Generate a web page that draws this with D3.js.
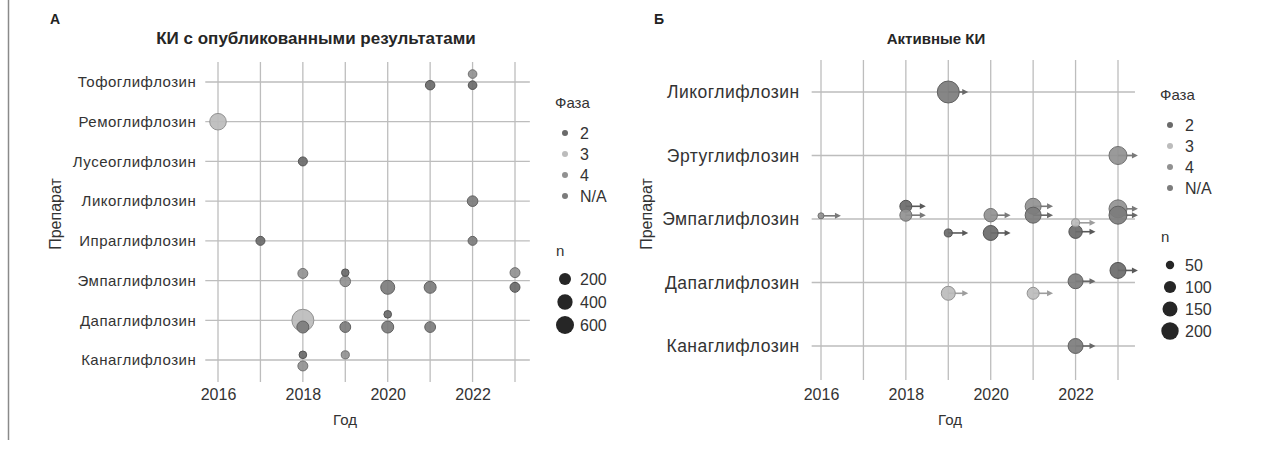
<!DOCTYPE html>
<html>
<head>
<meta charset="utf-8">
<script src="https://cdn.jsdelivr.net/npm/d3@7"></script>
<style>
  body { margin: 0; background: #fff; }
  svg text { font-family: "Liberation Sans", Arial, sans-serif; fill: #333; }
</style>
</head>
<body>
<svg id="chart" width="1279" height="451"></svg>
<script>
// ---- shared axes data ----
const years = [2016, 2017, 2018, 2019, 2020, 2021, 2022, 2023];
const yearTicks = [2016, 2018, 2020, 2022];
const phases = ["2", "3", "4", "N/A"];
const phaseColors = ["#6a6a6a", "#bcbcbc", "#919191", "#7c7c7c"];

// ---- panel A: trials with published results ----
const drugsA = ["Тофоглифлозин", "Ремоглифлозин", "Лусеоглифлозин", "Ликоглифлозин",
                "Ипраглифлозин", "Эмпаглифлозин", "Дапаглифлозин", "Канаглифлозин"];
const trialDrugA  = ["Тофоглифлозин","Тофоглифлозин","Тофоглифлозин","Ремоглифлозин","Лусеоглифлозин",
                     "Ликоглифлозин","Ипраглифлозин","Ипраглифлозин",
                     "Эмпаглифлозин","Эмпаглифлозин","Эмпаглифлозин","Эмпаглифлозин","Эмпаглифлозин","Эмпаглифлозин","Эмпаглифлозин",
                     "Дапаглифлозин","Дапаглифлозин","Дапаглифлозин","Дапаглифлозин","Дапаглифлозин","Дапаглифлозин",
                     "Канаглифлозин","Канаглифлозин","Канаглифлозин"];
const trialYearA  = [2021, 2022, 2022, 2016, 2018, 2022, 2017, 2022,
                     2018, 2019, 2019, 2020, 2021, 2023, 2023,
                     2018, 2018, 2019, 2020, 2020, 2021,
                     2018, 2018, 2019];
const trialPhaseA = ["2", "4", "2", "3", "2", "N/A", "2", "N/A",
                     "4", "2", "4", "N/A", "N/A", "4", "2",
                     "3", "N/A", "N/A", "2", "N/A", "N/A",
                     "2", "4", "4"];
const trialNA     = [80, 45, 45, 490, 60, 130, 60, 60,
                     100, 5, 130, 315, 200, 100, 100,
                     960, 200, 140, 10, 200, 140,
                     10, 100, 25];
// vertical dodge inside a drug row, in row-step units
const trialDodgeA = [0.08, -0.2, 0.08, 0, 0, 0, 0, 0,
                     -0.18, -0.2, 0.02, 0.17, 0.17, -0.2, 0.17,
                     0, 0.17, 0.17, -0.15, 0.17, 0.17,
                     -0.13, 0.15, -0.13];
const sizeBreaksA = [200, 400, 600];

// ---- panel B: active trials ----
const drugsB = ["Ликоглифлозин", "Эртуглифлозин", "Эмпаглифлозин", "Дапаглифлозин", "Канаглифлозин"];
const trialDrugB  = ["Ликоглифлозин", "Эртуглифлозин",
                     "Эмпаглифлозин","Эмпаглифлозин","Эмпаглифлозин","Эмпаглифлозин","Эмпаглифлозин","Эмпаглифлозин",
                     "Эмпаглифлозин","Эмпаглифлозин","Эмпаглифлозин","Эмпаглифлозин","Эмпаглифлозин","Эмпаглифлозин",
                     "Дапаглифлозин","Дапаглифлозин","Дапаглифлозин","Дапаглифлозин",
                     "Канаглифлозин"];
const trialYearB  = [2019, 2023,
                     2016, 2018, 2018, 2019, 2020, 2020,
                     2021, 2021, 2022, 2022, 2023, 2023,
                     2019, 2021, 2022, 2023,
                     2022];
const trialPhaseB = ["N/A", "4",
                     "4", "2", "4", "2", "4", "2",
                     "4", "N/A", "3", "2", "4", "N/A",
                     "3", "3", "N/A", "2",
                     "N/A"];
const trialNB     = [317, 214,
                     28, 98, 98, 46, 121, 149,
                     170, 170, 46, 121, 214, 214,
                     131, 98, 149, 170,
                     149];
const trialDodgeB = [0, 0,
                     -0.05, -0.2, -0.06, 0.22, -0.06, 0.22,
                     -0.2, -0.06, 0.06, 0.2, -0.16, -0.06,
                     0.17, 0.17, -0.02, -0.19,
                     0];
const sizeBreaksB = [50, 100, 150, 200];

const svg = d3.select("#chart");
const phaseColor = d3.scaleOrdinal().domain(phases).range(phaseColors);

// page frame line on the left
svg.append("line").attr("x1", 8.5).attr("x2", 8.5).attr("y1", 0).attr("y2", 440)
  .attr("stroke", "#8a8a8a").attr("stroke-width", 1.5);

function zipTrials(drug, year, phase, n, dodge) {
  return drug.map((d, i) => ({ drug: d, year: year[i], phase: phase[i], n: n[i], dodge: dodge[i] }));
}

function drawPanel(cfg) {
  const g = svg.append("g");
  const x = d3.scaleLinear().domain([2016, 2023]).range(cfg.xRange);
  const y = d3.scalePoint().domain(cfg.drugs).range(cfg.yRange);
  const step = y.step();
  const area = d3.scaleLinear().domain(cfg.sizeDomain).range(cfg.radiusRange.map(r => r * r));
  const radius = n => Math.sqrt(Math.max(area(n), 4));

  // panel letter and title
  g.append("text").attr("x", cfg.letterX).attr("y", 24).text(cfg.letter)
    .attr("font-size", 14).attr("font-weight", "bold").style("fill", "#222");
  g.append("text").attr("x", cfg.titleX).attr("y", 44).attr("text-anchor", "middle")
    .text(cfg.title).attr("font-size", cfg.titleSize).attr("font-weight", "bold").style("fill", "#262626");

  // grid
  g.append("g").selectAll("line").data(years).join("line")
    .attr("x1", d => x(d)).attr("x2", d => x(d))
    .attr("y1", cfg.vGrid[0]).attr("y2", cfg.vGrid[1])
    .attr("stroke", "#bdbdbd").attr("stroke-width", 1.3);
  g.append("g").selectAll("line").data(cfg.drugs).join("line")
    .attr("x1", x(cfg.hGrid[0])).attr("x2", x(cfg.hGrid[1]))
    .attr("y1", d => y(d)).attr("y2", d => y(d))
    .attr("stroke", "#bdbdbd").attr("stroke-width", 1.3);

  // axes
  const ya = g.append("g").attr("transform", `translate(${x(cfg.hGrid[0])},0)`)
    .call(d3.axisLeft(y).tickSize(0).tickPadding(cfg.labelPad));
  ya.select(".domain").remove();
  ya.selectAll("text").attr("font-size", cfg.labelSize).attr("letter-spacing", cfg.labelSpacing)
    .style("font-family", null);

  const xa = g.append("g").attr("transform", `translate(0,${cfg.xAxisY})`)
    .call(d3.axisBottom(x).tickValues(yearTicks).tickFormat(d3.format("d")).tickSize(0).tickPadding(0));
  xa.select(".domain").remove();
  xa.selectAll("text").attr("font-size", 16).style("font-family", null);

  g.append("text").attr("x", cfg.xTitleX).attr("y", cfg.xTitleY).attr("text-anchor", "middle")
    .attr("font-size", 15).text("Год");
  g.append("text").attr("transform", `translate(${cfg.yTitleX},${cfg.yTitleY}) rotate(-90)`)
    .attr("text-anchor", "middle").attr("font-size", 16).text("Препарат");

  const trials = cfg.trials;
  const py = d => y(d.drug) + d.dodge * step;

  // ongoing-trial arrows
  if (cfg.arrowYears) {
    const ag = g.append("g");
    ag.selectAll("line").data(trials).join("line")
      .attr("x1", d => x(d.year)).attr("x2", d => x(d.year + cfg.arrowYears) - 4)
      .attr("y1", py).attr("y2", py)
      .attr("stroke", d => d3.color(phaseColor(d.phase)).darker(0.5)).attr("stroke-width", 1.6);
    ag.selectAll("path").data(trials).join("path")
      .attr("d", d => {
        const tx = x(d.year + cfg.arrowYears), ty = py(d);
        return `M${tx},${ty}L${tx - 6},${ty - 3}L${tx - 6},${ty + 3}Z`;
      })
      .attr("fill", d => d3.color(phaseColor(d.phase)).darker(0.5));
  }

  // trial points, larger ones first so small ones stay visible
  g.append("g").selectAll("circle")
    .data(trials.slice().sort((a, b) => b.n - a.n)).join("circle")
    .attr("cx", d => x(d.year)).attr("cy", py).attr("r", d => radius(d.n))
    .attr("fill", d => phaseColor(d.phase)).attr("fill-opacity", 0.92)
    .attr("stroke", d => d3.color(phaseColor(d.phase)).darker(0.7)).attr("stroke-width", 1);

  // legends
  const lg = g.append("g").attr("transform", `translate(${cfg.legendX},0)`);
  lg.append("text").attr("x", -10).attr("y", cfg.phaseLegendY).attr("font-size", 15).text("Фаза");
  const pItems = lg.selectAll("g.ph").data(phases).join("g").attr("class", "ph")
    .attr("transform", (d, i) => `translate(0,${cfg.phaseLegendY + 25 + i * cfg.phaseGap})`);
  pItems.append("circle").attr("r", 3).attr("fill", d => phaseColor(d));
  pItems.append("text").attr("x", 15).attr("dy", "0.35em").attr("font-size", 16).text(d => d);

  lg.append("text").attr("x", -9).attr("y", cfg.sizeLegendY).attr("font-size", 15).text("n");
  const sItems = lg.selectAll("g.sz").data(cfg.sizeBreaks).join("g").attr("class", "sz")
    .attr("transform", (d, i) => `translate(0,${cfg.sizeLegendY + 23 + i * cfg.sizeGap})`);
  sItems.append("circle").attr("r", d => radius(d)).attr("fill", "#262626");
  sItems.append("text").attr("x", 15).attr("dy", "0.35em").attr("font-size", 16).text(d => d);
}

drawPanel({
  letter: "А", letterX: 50,
  title: "КИ с опубликованными результатами", titleX: 316, titleSize: 17,
  drugs: drugsA,
  trials: zipTrials(trialDrugA, trialYearA, trialPhaseA, trialNA, trialDodgeA),
  xRange: [218, 515], yRange: [82, 360],
  vGrid: [62, 382], hGrid: [2015.7, 2023.35],
  labelSize: 15, labelSpacing: 0.5, labelPad: 9,
  xAxisY: 389, xTitleX: 345, xTitleY: 425,
  yTitleX: 61, yTitleY: 214,
  sizeDomain: [200, 600], radiusRange: [6, 9],
  legendX: 565, phaseLegendY: 108, phaseGap: 21, sizeLegendY: 256, sizeGap: 23,
  sizeBreaks: sizeBreaksA
});

drawPanel({
  letter: "Б", letterX: 654,
  title: "Активные КИ", titleX: 936, titleSize: 15,
  drugs: drugsB,
  trials: zipTrials(trialDrugB, trialYearB, trialPhaseB, trialNB, trialDodgeB),
  xRange: [821, 1118], yRange: [92, 346],
  vGrid: [60, 380], hGrid: [2015.78, 2023.4],
  labelSize: 17.5, labelSpacing: 0.5, labelPad: 12,
  xAxisY: 389, xTitleX: 950, xTitleY: 425,
  yTitleX: 652, yTitleY: 214,
  sizeDomain: [50, 200], radiusRange: [4.2, 8.7],
  arrowYears: 0.47,
  legendX: 1170, phaseLegendY: 100, phaseGap: 21, sizeLegendY: 242, sizeGap: 22,
  sizeBreaks: sizeBreaksB
});
</script>
</body>
</html>
